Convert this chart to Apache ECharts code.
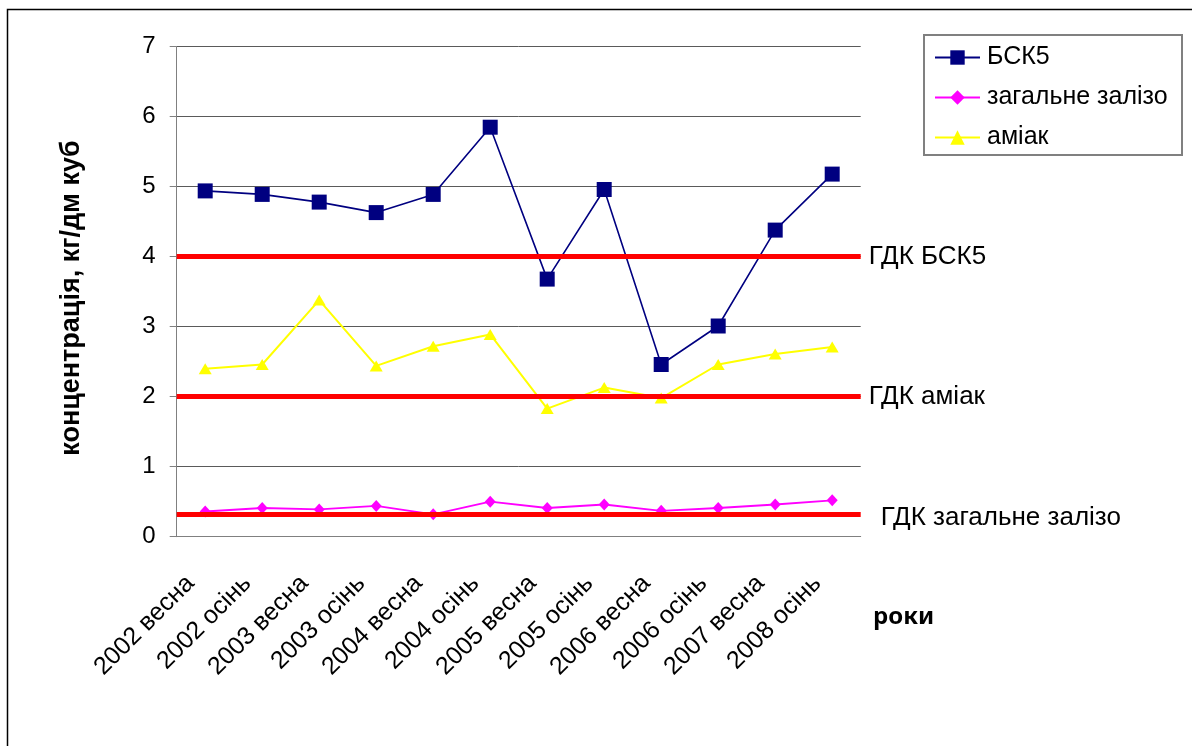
<!DOCTYPE html>
<html>
<head>
<meta charset="utf-8">
<script src="https://cdn.jsdelivr.net/npm/echarts@6/dist/echarts.min.js"></script>
<style>html,body{margin:0;padding:0;background:#fff;}#c{width:1192px;height:746px;}</style>
</head>
<body>
<div id="c"></div>
<script>
const categories = ['2002 весна','2002 осінь','2003 весна','2003 осінь','2004 весна','2004 осінь','2005 весна','2005 осінь','2006 весна','2006 осінь','2007 весна','2008 осінь'];
const bsk5 = [4.94, 4.89, 4.78, 4.63, 4.89, 5.85, 3.68, 4.96, 2.46, 3.01, 4.38, 5.18];
const iron = [0.36, 0.41, 0.39, 0.44, 0.32, 0.50, 0.41, 0.46, 0.37, 0.41, 0.46, 0.52];
const ammonia = [2.40, 2.46, 3.38, 2.44, 2.72, 2.89, 1.83, 2.13, 1.98, 2.46, 2.61, 2.71];
const seriesNames = ['БСК5', 'загальне залізо', 'аміак'];
const gdkValues = [4, 2, 0.32];
const gdkLabels = ['ГДК БСК5', 'ГДК аміак', 'ГДК загальне залізо'];
const yTicks = {min: 0, max: 7, interval: 1};
const yAxisTitle = 'концентрація, кг/дм куб';
const xAxisTitle = 'роки';

const FONT = '"Liberation Sans", Arial, sans-serif';
const chart = echarts.init(document.getElementById('c'), null, {renderer: 'canvas'});
const gdkOffsets = [[0, 0], [0, 0], [12, 4]];

chart.setOption({
  animation: false,
  backgroundColor: '#fff',
  textStyle: {fontFamily: FONT},
  grid: {left: 176.7, right: 331.3, top: 46.7, bottom: 209.3},
  legend: {
    data: seriesNames,
    orient: 'vertical',
    left: 924, top: 35,
    padding: [10, 9, 5, 10],
    itemWidth: 45, itemHeight: 18, itemGap: 15,
    borderColor: '#808080', borderWidth: 2,
    textStyle: {fontFamily: FONT, fontSize: 25, color: '#000', lineHeight: 25, width: 186, padding: [0, 0, 0, 2]}
  },
  xAxis: {
    type: 'category',
    data: categories,
    boundaryGap: true,
    axisLine: {lineStyle: {color: '#808080', width: 1}},
    axisTick: {length: 7, lineStyle: {color: '#808080'}},
    axisLabel: {rotate: 45, margin: 28, padding: [0, 21, 0, 0], fontSize: 25, color: '#000', fontFamily: FONT}
  },
  yAxis: {
    type: 'value',
    min: yTicks.min, max: yTicks.max, interval: yTicks.interval,
    axisLine: {show: true, lineStyle: {color: '#808080', width: 1}},
    axisTick: {show: true, length: 7, lineStyle: {color: '#808080'}},
    axisLabel: {fontSize: 24, color: '#000', margin: 21, fontFamily: FONT},
    splitLine: {lineStyle: {color: '#5a5a5a', width: 1}}
  },
  graphic: [
    {type: 'rect', shape: {x: 7.5, y: 9.5, width: 1300, height: 900}, style: {fill: 'none', stroke: '#000', lineWidth: 1.5}, silent: true},
    {type: 'text', x: 72, y: 298, rotation: Math.PI / 2,
     style: {text: yAxisTitle, font: 'bold 27px ' + FONT, fill: '#000', textAlign: 'center', textVerticalAlign: 'middle'}},
    {type: 'text', x: 873, y: 617,
     style: {text: xAxisTitle, font: 'bold 24px "Noto Sans", ' + FONT, fill: '#000', textAlign: 'left', textVerticalAlign: 'middle'}}
  ],
  series: [
    {
      name: seriesNames[0], type: 'line', data: bsk5,
      symbol: 'rect', symbolSize: 15,
      lineStyle: {color: '#000080', width: 1.6},
      itemStyle: {color: '#000080'}
    },
    {
      name: seriesNames[1], type: 'line', data: iron,
      symbol: 'diamond', symbolSize: [11, 12],
      lineStyle: {color: '#FF00FF', width: 1.8},
      itemStyle: {color: '#FF00FF'}
    },
    {
      name: seriesNames[2], type: 'line', data: ammonia,
      symbol: 'triangle', symbolSize: [13, 11],
      lineStyle: {color: '#FFFF00', width: 2},
      itemStyle: {color: '#FFFF00'}
    },
    {
      name: 'ГДК', type: 'line', data: [],
      markLine: {
        silent: true, symbol: 'none', animation: false,
        lineStyle: {color: '#FF0000', width: 5, type: 'solid'},
        label: {show: true, position: 'end', distance: 8, fontSize: 26, color: '#000', fontFamily: FONT},
        data: gdkValues.map((v, i) => ({
          yAxis: v,
          label: {formatter: gdkLabels[i], offset: gdkOffsets[i]}
        }))
      }
    }
  ]
});
</script>
</body>
</html>
